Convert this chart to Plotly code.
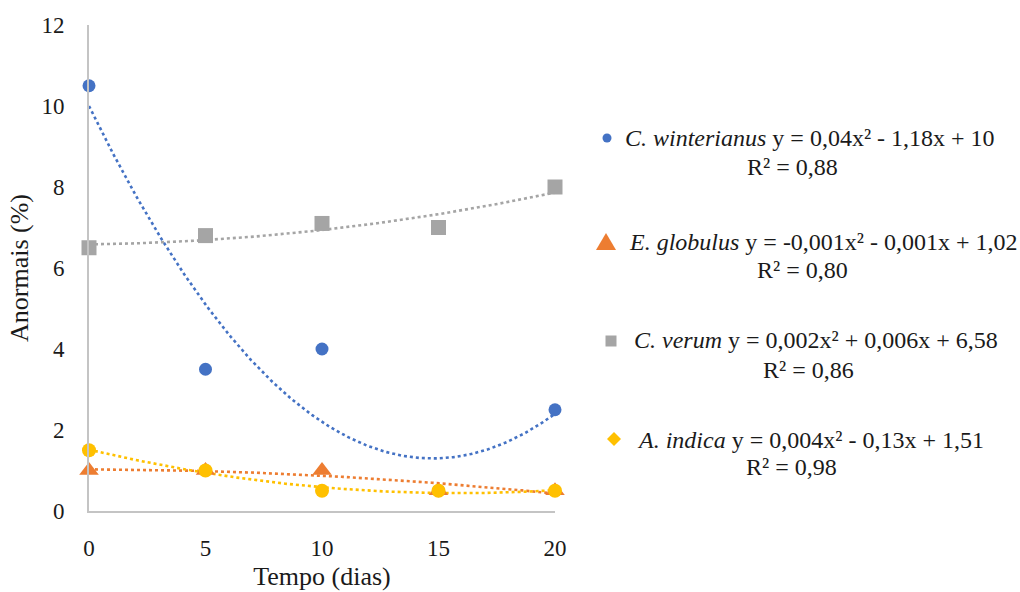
import numpy as np
import plotly.graph_objects as go

# ---------------- data ----------------
dias = [0, 5, 10, 15, 20]
c_winterianus = [10.5, 3.5, 4.0, 0.5, 2.5]
e_globulus = [1.0, 1.0, 1.0, 0.5, 0.5]
c_verum = [6.5, 6.8, 7.1, 7.0, 8.0]
a_indica = [1.5, 1.0, 0.5, 0.5, 0.5]

y_ticks = [0, 2, 4, 6, 8, 10, 12]
x_ticks = [0, 5, 10, 15, 20]

eq_lines = [
    "<i>C. winterianus</i> y = 0,04x² - 1,18x + 10",
    "<i>E. globulus</i> y = -0,001x² - 0,001x + 1,02",
    "<i>C. verum</i> y = 0,002x² + 0,006x + 6,58",
    "<i>A. indica</i> y = 0,004x² - 0,13x + 1,51",
]
r2_lines = ["R² = 0,88", "R² = 0,80", "R² = 0,86", "R² = 0,98"]

# ---------------- styles ----------------
W, H = 1020, 592
FONT = "Liberation Serif"
TXT = "#1a1a1a"
BLUE, ORANGE, GRAY, YELLOW = "#4472C4", "#ED7D31", "#A5A5A5", "#FFC000"

series = [
    (c_winterianus, BLUE, "circle", 13),
    (e_globulus, ORANGE, "triangle-up", 17),
    (c_verum, GRAY, "square", 15),
    (a_indica, YELLOW, "circle", 14),
]

fig = go.Figure()
xs = np.linspace(0, 20, 300)
for vals, col, sym, sz in series:
    coef = np.polyfit(dias, vals, 2)
    fig.add_trace(go.Scatter(x=xs, y=np.polyval(coef, xs), mode="lines",
                             line=dict(color=col, width=2.6, dash="dot"),
                             showlegend=False, hoverinfo="skip", cliponaxis=False))
for vals, col, sym, sz in series:
    fig.add_trace(go.Scatter(x=dias, y=vals, mode="markers",
                             marker=dict(color=col, symbol=sym, size=sz, line=dict(width=0)),
                             showlegend=False, cliponaxis=False))

def px(x):
    return x / W

def py(y):
    return 1 - y / H

x0, x1 = 89, 555
y0, y1 = 511, 25

fig.update_layout(
    width=W, height=H,
    margin=dict(l=0, r=0, t=0, b=0),
    paper_bgcolor="white", plot_bgcolor="white",
    font=dict(family=FONT, size=22, color=TXT),
    xaxis=dict(domain=[px(x0), px(x1)], range=[0, 20], tickvals=x_ticks,
               showgrid=False, zeroline=False, showline=True, linecolor="#c4c4c4",
               linewidth=1.6, ticks="", ticklabelstandoff=16, automargin=False,
               tickfont=dict(family=FONT, size=23, color=TXT),
               title=dict(text="Tempo (dias)", font=dict(family=FONT, size=26, color=TXT),
                          standoff=6)),
    yaxis=dict(domain=[py(y0), py(y1)], range=[0, 12], tickvals=y_ticks,
               showgrid=False, zeroline=False, showline=True, linecolor="#c4c4c4",
               linewidth=1.6, ticks="", ticklabelstandoff=18, automargin=False,
               tickfont=dict(family=FONT, size=23, color=TXT),
               title=dict(text="Anormais (%)", font=dict(family=FONT, size=26, color=TXT),
                          standoff=5)),
)

# legend text (equations)
line1_x = [623, 627, 632, 635]
line1_y = [138, 242, 340, 440]
r2_x = [792, 802, 808, 791]
r2_y = [167, 270, 370, 467]
for i in range(4):
    fig.add_annotation(text=eq_lines[i], xref="paper", yref="paper",
                       x=px(line1_x[i]), y=py(line1_y[i]), xanchor="left", yanchor="middle",
                       showarrow=False, font=dict(family=FONT, size=24, color=TXT))
    fig.add_annotation(text=r2_lines[i], xref="paper", yref="paper",
                       x=px(r2_x[i]), y=py(r2_y[i]), xanchor="center", yanchor="middle",
                       showarrow=False, font=dict(family=FONT, size=24, color=TXT))

# legend symbols
def box(cx, cy, r):
    return dict(x0=px(cx - r), x1=px(cx + r), y0=py(cy + r), y1=py(cy - r))

fig.add_shape(type="circle", xref="paper", yref="paper", fillcolor=BLUE,
              line=dict(width=0), **box(607, 138, 4.5))
fig.add_shape(type="path", xref="paper", yref="paper", fillcolor=ORANGE, line=dict(width=0),
              path=f"M {px(596)} {py(250)} L {px(616)} {py(250)} L {px(606)} {py(233)} Z")
fig.add_shape(type="rect", xref="paper", yref="paper", fillcolor=GRAY,
              line=dict(width=0), **box(611, 341, 5.5))
fig.add_shape(type="path", xref="paper", yref="paper", fillcolor=YELLOW, line=dict(width=0),
              path=(f"M {px(614)} {py(432)} L {px(621)} {py(439)} "
                    f"L {px(614)} {py(446)} L {px(607)} {py(439)} Z"))

fig.write_html("out.html")
